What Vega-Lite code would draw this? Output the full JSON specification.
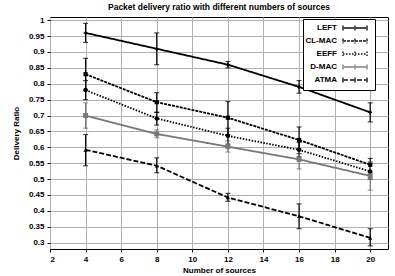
{
  "$schema": "https://vega.github.io/schema/vega-lite/v6.json",
  "width": 338,
  "height": 232,
  "autosize": {"type": "none"},
  "padding": {"left": 50, "top": 17, "right": 7, "bottom": 27},
  "background": "white",
  "title": {"text": "Packet delivery ratio with different numbers of sources", "fontSize": 8.5, "font": "Liberation Sans", "fontWeight": "bold", "anchor": "middle", "offset": 5, "color": "black"},
  "config": {
    "view": {"stroke": "black", "strokeWidth": 1},
    "axis": {"labelFont": "Liberation Sans", "labelFontWeight": "bold", "labelFontSize": 8, "labelColor": "black", "labelOverlap": false, "titleFont": "Liberation Sans", "titleFontWeight": "bold", "titleFontSize": 8, "titleColor": "black", "domain": false, "grid": true, "tickColor": "black", "tickSize": 3, "labelPadding": 3, "gridColor": "#b0b0b0", "gridWidth": 1, "gridOpacity": 1, "zindex": 0},
    "axisX": {"grid": true},
    "axisY": {"grid": true},
    "legend": {"labelFont": "Liberation Sans", "labelFontWeight": "bold", "labelFontSize": 8, "labelColor": "black"}
  },
  "data": {"values": [
    {"series": "LEFT", "x": 4, "y": 0.96, "lo": 0.93, "hi": 0.99},
    {"series": "LEFT", "x": 8, "y": 0.91, "lo": 0.86, "hi": 0.96},
    {"series": "LEFT", "x": 12, "y": 0.86, "lo": 0.85, "hi": 0.87},
    {"series": "LEFT", "x": 16, "y": 0.79, "lo": 0.77, "hi": 0.81},
    {"series": "LEFT", "x": 20, "y": 0.71, "lo": 0.68, "hi": 0.74},
    {"series": "CL-MAC", "x": 4, "y": 0.83, "lo": 0.78, "hi": 0.88},
    {"series": "CL-MAC", "x": 8, "y": 0.742, "lo": 0.71, "hi": 0.772},
    {"series": "CL-MAC", "x": 12, "y": 0.693, "lo": 0.64, "hi": 0.744},
    {"series": "CL-MAC", "x": 16, "y": 0.623, "lo": 0.58, "hi": 0.664},
    {"series": "CL-MAC", "x": 20, "y": 0.545, "lo": 0.52, "hi": 0.565},
    {"series": "EEFF", "x": 4, "y": 0.78, "lo": 0.75, "hi": 0.81},
    {"series": "EEFF", "x": 8, "y": 0.691, "lo": 0.67, "hi": 0.71},
    {"series": "EEFF", "x": 12, "y": 0.636, "lo": 0.61, "hi": 0.66},
    {"series": "EEFF", "x": 16, "y": 0.592, "lo": 0.57, "hi": 0.615},
    {"series": "EEFF", "x": 20, "y": 0.524, "lo": 0.50, "hi": 0.55},
    {"series": "D-MAC", "x": 4, "y": 0.70, "lo": 0.66, "hi": 0.74},
    {"series": "D-MAC", "x": 8, "y": 0.642, "lo": 0.63, "hi": 0.655},
    {"series": "D-MAC", "x": 12, "y": 0.602, "lo": 0.585, "hi": 0.62},
    {"series": "D-MAC", "x": 16, "y": 0.562, "lo": 0.532, "hi": 0.595},
    {"series": "D-MAC", "x": 20, "y": 0.51, "lo": 0.465, "hi": 0.555},
    {"series": "ATMA", "x": 4, "y": 0.592, "lo": 0.542, "hi": 0.64},
    {"series": "ATMA", "x": 8, "y": 0.542, "lo": 0.52, "hi": 0.567},
    {"series": "ATMA", "x": 12, "y": 0.442, "lo": 0.43, "hi": 0.455},
    {"series": "ATMA", "x": 16, "y": 0.383, "lo": 0.344, "hi": 0.422},
    {"series": "ATMA", "x": 20, "y": 0.315, "lo": 0.29, "hi": 0.344}
  ]},
  "encoding": {
    "x": {"field": "x", "type": "quantitative", "scale": {"domain": [2, 21], "nice": false, "zero": false},
      "axis": {"values": [2, 4, 6, 8, 10, 12, 14, 16, 18, 20], "title": "Number of sources", "titlePadding": 3, "grid": true, "gridColor": "#b0b0b0"}},
    "y": {"field": "y", "type": "quantitative", "scale": {"domain": [0.28, 1.01], "nice": false, "zero": false},
      "axis": {"values": [0.3, 0.35, 0.4, 0.45, 0.5, 0.55, 0.6, 0.65, 0.7, 0.75, 0.8, 0.85, 0.9, 0.95, 1], "format": ".2~f", "title": "Delivery Ratio", "titlePadding": 8, "grid": true, "gridColor": "#b0b0b0", "labelOverlap": false}},
    "color": {"field": "series", "type": "nominal",
      "scale": {"domain": ["LEFT", "CL-MAC", "EEFF", "D-MAC", "ATMA"], "range": ["black", "black", "black", "#777777", "black"]},
      "legend": {"title": null, "orient": "none", "legendX": 253, "legendY": 2, "strokeColor": "black", "fillColor": "white", "padding": 4, "symbolType": "M-3,0H3M-3,-0.6V0.6M3,-0.6V0.6M0,-0.6V0.6", "symbolSize": 64, "symbolStrokeWidth": 1.2, "symbolFillColor": "transparent", "symbolOffset": 43, "labelAlign": "right", "labelOffset": -23, "rowPadding": 1}}
  },
  "layer": [
    {
      "mark": {"type": "errorbar", "ticks": {"size": 5}, "thickness": 1.2},
      "encoding": {
        "y": {"field": "lo", "type": "quantitative", "scale": {"domain": [0.28, 1.01], "nice": false, "zero": false},
          "axis": {"values": [0.3, 0.35, 0.4, 0.45, 0.5, 0.55, 0.6, 0.65, 0.7, 0.75, 0.8, 0.85, 0.9, 0.95, 1], "format": ".2~f", "title": "Delivery Ratio", "titlePadding": 8, "grid": true, "gridColor": "#b0b0b0", "labelOverlap": false}},
        "y2": {"field": "hi"}
      }
    },
    {
      "mark": {"type": "line"},
      "encoding": {
        "strokeDash": {"field": "series", "type": "nominal",
          "scale": {"domain": ["LEFT", "CL-MAC", "EEFF", "D-MAC", "ATMA"], "range": [[1, 0], [3, 1], [1.5, 1.5], [1, 0], [5, 2]]}},
        "strokeWidth": {"field": "series", "type": "nominal",
          "scale": {"domain": ["LEFT", "CL-MAC", "EEFF", "D-MAC", "ATMA"], "range": [1.8, 1.8, 1.8, 1.3, 1.8]},
          "legend": null}
      }
    },
    {"transform": [{"filter": "datum.series == 'LEFT'"}], "mark": {"type": "point", "shape": "cross", "filled": true, "opacity": 1, "size": 14}},
    {"transform": [{"filter": "datum.series == 'CL-MAC'"}], "mark": {"type": "point", "shape": "square", "filled": true, "opacity": 1, "size": 18}},
    {"transform": [{"filter": "datum.series == 'EEFF'"}], "mark": {"type": "point", "shape": "circle", "filled": true, "opacity": 1, "size": 20}},
    {"transform": [{"filter": "datum.series == 'D-MAC'"}], "mark": {"type": "point", "shape": "square", "filled": true, "opacity": 1, "size": 24}},
    {"transform": [{"filter": "datum.series == 'ATMA'"}], "mark": {"type": "point", "shape": "triangle-up", "filled": true, "opacity": 1, "size": 18}}
  ]
}
